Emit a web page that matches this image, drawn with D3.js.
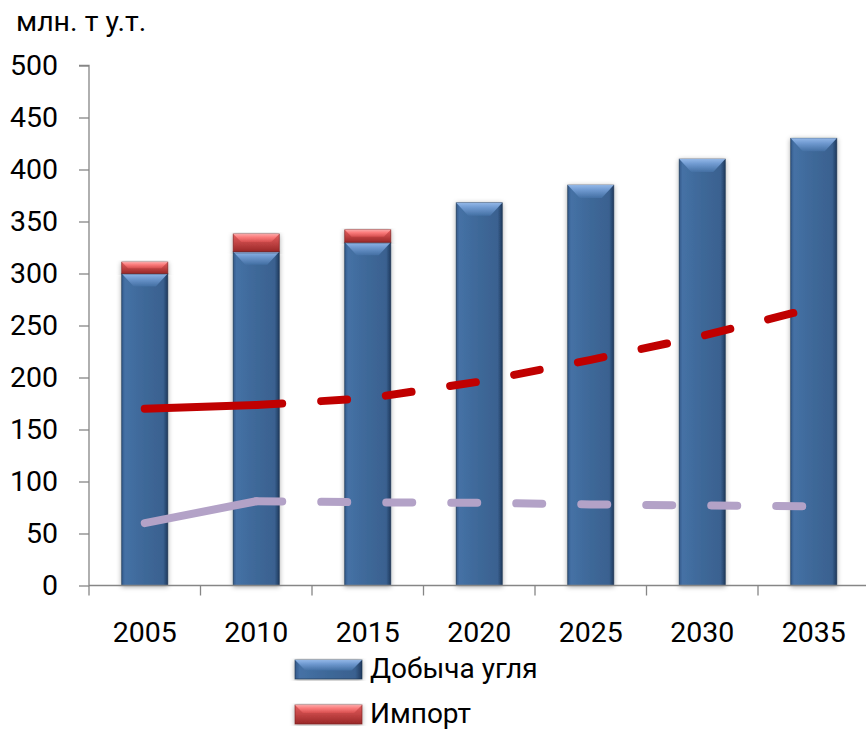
<!DOCTYPE html>
<html><head><meta charset="utf-8">
<script src="https://cdn.jsdelivr.net/npm/d3@7"></script>
<style>body{margin:0;background:#fff}svg{display:block}</style>
</head><body><svg id="c" width="866" height="730"></svg>
<script>
const years = ["2005","2010","2015","2020","2025","2030","2035"];
const production = [300, 321, 330, 368, 385, 410, 430];
const imports = [11, 17, 12, 0, 0, 0, 0];
const redLine = [170, 173.5, 180, 196, 217, 240, 267];
const lilacLine = [60, 81, 80, 79.5, 78, 77, 76];
const yTicks = [0, 50, 100, 150, 200, 250, 300, 350, 400, 450, 500];
const seriesNames = ["Добыча угля", "Импорт"];
const unitLabel = "млн. т у.т.";

const FONT = "Roboto, 'Open Sans', sans-serif";
const svg = d3.select("#c");
const x = d3.scaleBand().domain(years).range([89, 869.5]).paddingInner(0.587).paddingOuter(0.2935);
const y = d3.scaleLinear().domain([0, 500]).range([585.5, 65.5]);

const defs = svg.append("defs");
function grad(id, stops, vertical) {
  const g = defs.append("linearGradient").attr("id", id)
    .attr("x1", 0).attr("y1", 0).attr("x2", vertical ? 0 : 1).attr("y2", vertical ? 1 : 0);
  stops.forEach(s => g.append("stop").attr("offset", s[0]).attr("stop-color", s[1]).attr("stop-opacity", s[2] == null ? 1 : s[2]));
}
grad("blueBody", [[0, "#33598a"], [0.07, "#4571a5"], [0.5, "#3e6898"], [0.9, "#3a6190"], [1, "#1f3a5e"]], false);
grad("blueTop", [[0, "#9cc0f0"], [0.35, "#77a1d8"], [1, "#4470a4"]], true);
grad("redBody", [[0, "#e45e5e"], [0.5, "#c24444"], [1, "#992828"]], true);
grad("redTop", [[0, "#ffb0b0"], [0.4, "#ff8080"], [1, "#d85050"]], true);
const f = defs.append("filter").attr("id", "sh").attr("x", -0.3).attr("y", -0.1).attr("width", 1.6).attr("height", 1.2);
f.append("feDropShadow").attr("dx", 0).attr("dy", 1).attr("stdDeviation", 2.5).attr("flood-color", "#000").attr("flood-opacity", 0.35);

function bevelBar(g, x0, w, yTop, yBot, kind) {
  const h = yBot - yTop;
  if (h <= 0) return;
  const grp = g.append("g").attr("filter", "url(#sh)");
  grp.append("rect").attr("x", x0).attr("y", yTop).attr("width", w).attr("height", h)
    .attr("fill", kind === "blue" ? "url(#blueBody)" : "url(#redBody)")
    .attr("stroke", kind === "blue" ? "#1d3350" : "#7a1f1f").attr("stroke-width", 0.8).attr("stroke-opacity", 0.8);
  const bh = Math.min(kind === "blue" ? 13 : 8, h * 0.55);
  const inset = Math.min(12, bh);
  grp.append("path")
    .attr("d", `M${x0},${yTop}L${x0 + w},${yTop}L${x0 + w - inset},${yTop + bh}L${x0 + inset},${yTop + bh}Z`)
    .attr("fill", kind === "blue" ? "url(#blueTop)" : "url(#redTop)").attr("opacity", 0.9);
}

// bars
const barsG = svg.append("g");
years.forEach((yr, i) => {
  const x0 = x(yr), w = x.bandwidth();
  bevelBar(barsG, x0, w, y(production[i]), y(0), "blue");
  if (imports[i] > 0) bevelBar(barsG, x0, w, y(production[i] + imports[i]), y(production[i]), "red");
});

// axes
const axisColor = "#868686";
const yAxis = svg.append("g").attr("transform", `translate(${x.range()[0]},0)`)
  .call(d3.axisLeft(y).tickValues(yTicks).tickSize(10).tickPadding(21));
yAxis.select(".domain").attr("stroke", axisColor).attr("stroke-width", 1.3).attr("d", `M-10,${y(500)}H0V${y(0)}`);
yAxis.selectAll(".tick line").attr("stroke", axisColor).attr("stroke-width", 1.3);
yAxis.selectAll("text").attr("font-family", FONT).attr("font-size", 28.5).attr("fill", "#000");

const xAxis = svg.append("g").attr("transform", `translate(0,${y(0)})`)
  .call(d3.axisBottom(x).tickSize(0));
xAxis.select(".domain").attr("stroke", axisColor).attr("stroke-width", 1.3).attr("d", `M${x.range()[0]},0H${x.range()[1]}`);
xAxis.selectAll("text").attr("font-family", FONT).attr("font-size", 28.5).attr("fill", "#000").attr("y", 56).attr("dy", 0);
const bounds = d3.range(years.length + 1).map(i => x.range()[0] + i * x.step());
xAxis.selectAll(".bnd").data(bounds).enter().append("line").attr("class", "bnd")
  .attr("x1", d => d).attr("x2", d => d).attr("y1", 0).attr("y2", 10)
  .attr("stroke", axisColor).attr("stroke-width", 1.3);

// lines
const cx = yr => x(yr) + x.bandwidth() / 2;
const line = d3.line().x(d => cx(d.yr)).y(d => y(d.v));
function drawSeries(vals, color) {
  const pts = years.map((yr, i) => ({ yr, v: vals[i] }));
  svg.append("path").attr("d", line(pts.slice(0, 2))).attr("fill", "none").attr("stroke", color)
    .attr("stroke-width", 8).attr("stroke-linecap", "round").attr("stroke-linejoin", "round");
  svg.append("path").attr("d", line(pts.slice(1))).attr("fill", "none").attr("stroke", color)
    .attr("stroke-width", 8).attr("stroke-linecap", "round").attr("stroke-linejoin", "round")
    .attr("stroke-dasharray", "26 39");
}
drawSeries(lilacLine, "#b3a2c7");
drawSeries(redLine, "#c00000");

// unit label
svg.append("text").attr("x", 16).attr("y", 31).attr("font-family", FONT).attr("font-size", 28.5).attr("fill", "#000").text(unitLabel);

// legend
const leg = svg.append("g");
seriesNames.forEach((name, i) => {
  const top = 660 + i * 45;
  bevelBar(leg, 295, 67, top, top + 19, i === 0 ? "blue" : "red");
  leg.append("text").attr("x", 370).attr("y", top + 18).attr("font-family", FONT).attr("font-size", 28)
    .attr("fill", "#000").text(name);
});
</script></body></html>
